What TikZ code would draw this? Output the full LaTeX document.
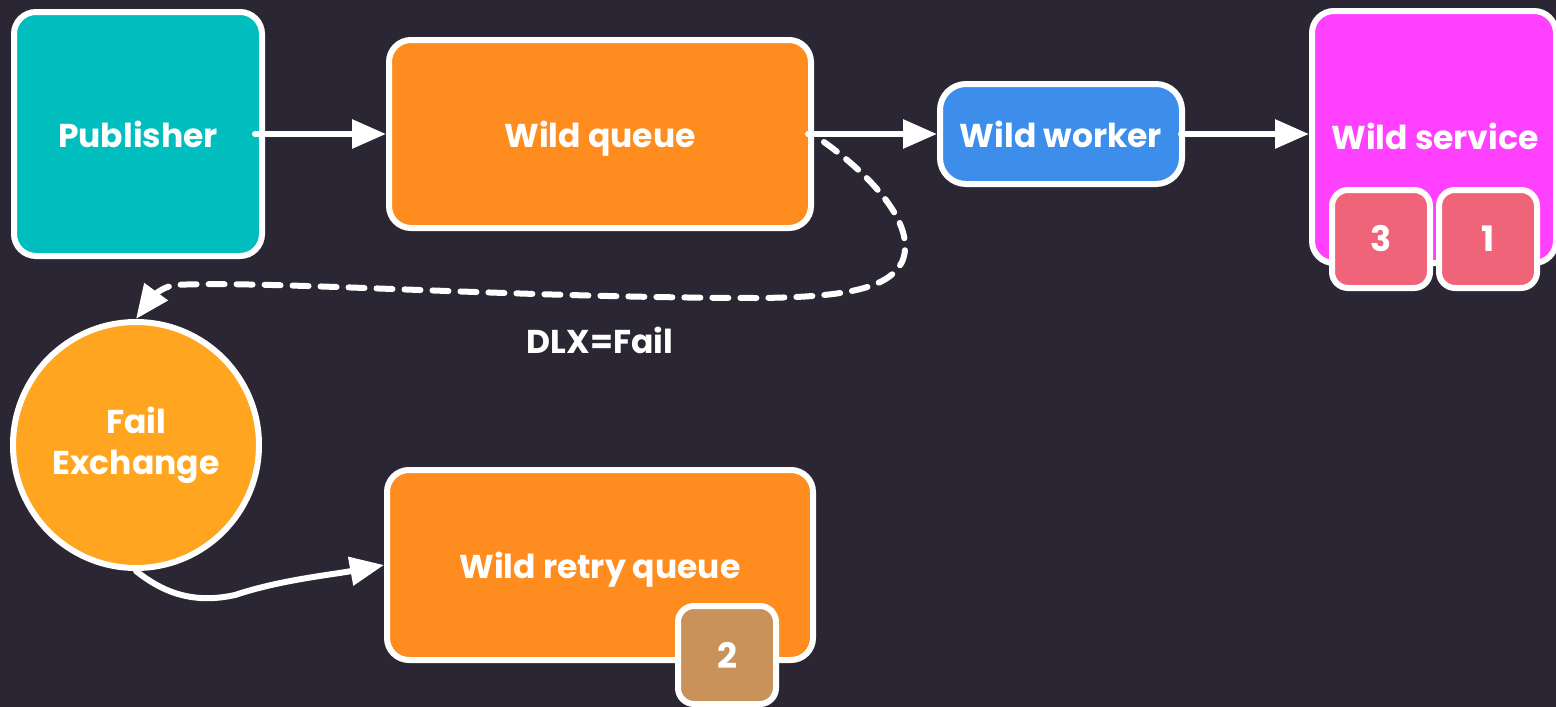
\documentclass[tikz,border=0pt]{standalone}
\usepackage{fontspec}
\setmainfont{Poppins}
\usetikzlibrary{arrows.meta,calc}
\definecolor{bg}{RGB}{42,38,51}
\definecolor{teal}{RGB}{0,190,190}
\definecolor{orq}{RGB}{255,140,30}
\definecolor{blu}{RGB}{60,142,234}
\definecolor{mag}{RGB}{255,64,255}
\definecolor{pinkbadge}{RGB}{240,100,122}
\definecolor{brbadge}{RGB}{200,146,90}
\definecolor{exo}{RGB}{255,165,32}
\tikzset{
  lbl/.style={text=white, font=\fontsize{33}{40}\selectfont\bfseries},
  box/.style={draw=white, line width=6pt, rounded corners=22pt, lbl,
    inner sep=0pt, align=center},
  badge/.style={box, rounded corners=16pt, minimum width=98pt, minimum height=98pt,
    font=\fontsize{35}{40}\selectfont\bfseries},
  conn/.style={draw=white, line width=6pt, line cap=round,
    -{Triangle[length=34pt,width=28pt]}},
  dconn/.style={conn, dash pattern=on 16pt off 12pt},
}
\begin{document}
\begin{tikzpicture}[x=1pt,y=-1pt]
\fill[bg] (0,0) rectangle (1556,707);
\useasboundingbox (0,0) rectangle (1556,707);
\node[box, fill=teal, minimum width=248pt, minimum height=244pt] (pub) at (138,134) {Publisher};
\node[box, fill=orq, text depth=0pt, minimum width=422pt, minimum height=188pt] (wq) at (600,134) {Wild queue};
\node[box, fill=blu, rounded corners=26pt, minimum width=242pt, minimum height=100pt] (ww) at (1061,134) {Wild worker};
\node[box, fill=mag, minimum width=244pt, minimum height=252pt] (ws) at (1434,137) {};
\node[lbl] (wst) at (1435,136) {Wild service};
\node[badge, fill=pinkbadge] (b3) at (1381,239) {3};
\node[badge, fill=pinkbadge] (b1) at (1488,239) {1};
\node[box, circle, fill=exo, minimum size=246pt, font=\fontsize{33}{41}\selectfont\bfseries] (fx) at (136,445) {Fail\\Exchange};
\node[box, fill=orq, text depth=0pt, minimum width=426pt, minimum height=190pt] (rq) at (600,565) {Wild retry queue};
\node[badge, fill=brbadge] (b2) at (727,655) {2};
\node[lbl] (dlx) at (600,340) {DLX=Fail};
\draw[conn] ([xshift=-10pt]pub.east) -- (wq.west);
\draw[conn] ([xshift=-6pt]wq.east) -- (ww.west);
\draw[conn] ([xshift=-4pt]ww.east) -- (ww.east -| ws.west);
\draw[dconn] ($(wq.east)+(10,8)$) .. controls (870,175) and (918,225) .. (902,262)
  .. controls (888,290) and (840,297) .. (760,298)
  .. controls (520,298) and (260,280) .. (175,285)
  .. controls (160,287) and (150,300) .. (fx.north);
\draw[conn] (fx.south) .. controls (160,590) and (190,605) .. (235,595)
  .. controls (280,580) and (330,575) .. (rq.west);
\end{tikzpicture}
\end{document}
